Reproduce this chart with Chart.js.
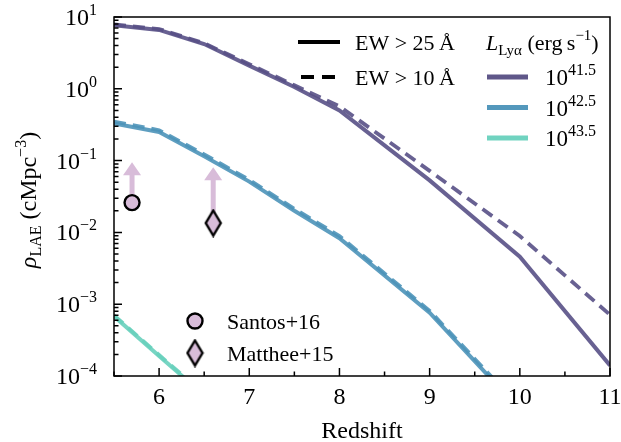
<!DOCTYPE html>
<html>
<head>
<meta charset="utf-8">
<script src="https://cdn.jsdelivr.net/npm/chart.js@4.4.1/dist/chart.umd.min.js"></script>
<style>
  body { margin: 0; background: #fff; }
  #wrap { width: 621px; height: 442px; }
</style>
</head>
<body>
<div id="wrap"><canvas id="grafico" width="621" height="442"></canvas></div>
<script>
// redshift grid
const redshift = [5.5, 6, 6.5, 7, 7.5, 8, 9, 10, 11];

// rho_LAE (cMpc^-3) per luminosity threshold, EW > 25 A (solid) and EW > 10 A (dashed)
const lum415ew25 = [7.7, 6.6, 4.2, 2.1, 1.06, 0.50, 0.053, 0.0046, 0.00014];
const lum415ew10 = [7.9, 6.8, 4.3, 2.2, 1.12, 0.57, 0.072, 0.0089, 0.00071];
const lum425ew25 = [0.33, 0.25, 0.115, 0.051, 0.020, 0.0083, 0.00076, 0.000034, null];
const lum425ew10 = [0.35, 0.265, 0.122, 0.054, 0.0213, 0.0089, 0.00081, 0.000037, null];
const lum435ew25 = [0.00068, 0.00019, 0.000054, 0.000015, null, null, null, null, null];
const lum435ew10 = [0.00070, 0.000196, 0.000056, 0.0000155, null, null, null, null, null];

// observations (lower limits)
const santosZ = [5.7];
const santosVal = [0.026];
const santosLim = [0.095];
const mattheeZ = [6.6];
const mattheeVal = [0.0135];
const mattheeLim = [0.081];

// axis ticks
const xTicks = [6, 7, 8, 9, 10, 11];
const xMinor = [5.5, 6.5, 7.5, 8.5, 9.5, 10.5];
const yExp = [1, 0, -1, -2, -3, -4];
const lumLabels = ["41.5", "42.5", "43.5"];

const colPurple = "rgba(88, 80, 134, 0.9)";
const colBlue = "rgba(76, 148, 185, 0.9)";
const colTeal = "rgba(104, 208, 188, 0.9)";
const legPurple = "#5f5789";
const legBlue = "#5498bc";
const legTeal = "#70d3c0";
const markFill = "#d8bcd9";
const serif = '"Liberation Serif", "Times New Roman", serif';

const ctx = document.getElementById("grafico");

function pts(vals) {
    return redshift.map((z, i) => ({ x: z, y: vals[i] }));
}

// thin diamond marker, like matplotlib 'd'
function diamondImg() {
    const c = document.createElement("canvas");
    c.width = 19; c.height = 29;
    const g = c.getContext("2d");
    g.beginPath();
    g.moveTo(9.5, 2); g.lineTo(17, 14.5); g.lineTo(9.5, 27); g.lineTo(2, 14.5);
    g.closePath();
    g.fillStyle = markFill; g.fill();
    g.lineWidth = 2.4; g.strokeStyle = "#000"; g.lineJoin = "miter"; g.stroke();
    return c;
}
const diamond = diamondImg();

function lineSet(vals, color, dashed) {
    return {
        data: pts(vals),
        borderColor: color,
        borderWidth: dashed ? 3.8 : 4,
        borderDash: dashed ? [12, 7] : [],
        pointRadius: 0,
        tension: 0,
        fill: false,
        spanGaps: false,
        order: 2
    };
}

// draw text pieces with sub/superscripts; returns width
function rich(g, parts, x, y, align) {
    let w = 0;
    parts.forEach(p => {
        g.font = (p.it ? "italic " : "") + p.s + "px " + serif;
        p.w = g.measureText(p.t).width;
        w += p.w;
    });
    let cx = align === "right" ? x - w : align === "center" ? x - w / 2 : x;
    g.textAlign = "left";
    g.textBaseline = "alphabetic";
    parts.forEach(p => {
        g.font = (p.it ? "italic " : "") + p.s + "px " + serif;
        g.fillText(p.t, cx, y + (p.dy || 0));
        cx += p.w;
    });
    return w;
}

function arrowUp(g, x, y0, y1) {
    g.fillStyle = markFill;
    g.fillRect(x - 2.5, y1 + 12, 5, y0 - y1 - 12);
    g.beginPath();
    g.moveTo(x - 9, y1 + 13);
    g.lineTo(x + 9, y1 + 13);
    g.lineTo(x, y1);
    g.closePath();
    g.fill();
}

const limitsPlugin = {
    id: "limits",
    beforeDatasetsDraw(chart) {
        const g = chart.ctx, xs = chart.scales.x, ys = chart.scales.y;
        g.save();
        santosZ.forEach((z, i) => arrowUp(g, xs.getPixelForValue(z), ys.getPixelForValue(santosVal[i]), ys.getPixelForValue(santosLim[i])));
        mattheeZ.forEach((z, i) => arrowUp(g, xs.getPixelForValue(z), ys.getPixelForValue(mattheeVal[i]), ys.getPixelForValue(mattheeLim[i])));
        g.restore();
    }
};

const axesPlugin = {
    id: "axes",
    afterDraw(chart) {
        const g = chart.ctx, a = chart.chartArea, xs = chart.scales.x, ys = chart.scales.y;
        g.save();
        g.strokeStyle = "#000";
        g.fillStyle = "#000";
        g.lineWidth = 1.5;
        g.strokeRect(a.left, a.top, a.right - a.left, a.bottom - a.top);

        // x ticks
        g.beginPath();
        xTicks.forEach(v => { const p = xs.getPixelForValue(v); g.moveTo(p, a.bottom); g.lineTo(p, a.bottom - 8); });
        xMinor.forEach(v => { const p = xs.getPixelForValue(v); g.moveTo(p, a.bottom); g.lineTo(p, a.bottom - 4.5); });
        // y ticks
        yExp.forEach(e => {
            const p = ys.getPixelForValue(Math.pow(10, e));
            g.moveTo(a.left, p); g.lineTo(a.left + 8, p);
            if (e > -4) {
                for (let k = 2; k <= 9; k++) {
                    const q = ys.getPixelForValue(k * Math.pow(10, e - 1));
                    g.moveTo(a.left, q); g.lineTo(a.left + 4.5, q);
                }
            }
        });
        g.stroke();

        // tick labels
        g.font = "24px " + serif;
        g.textAlign = "center";
        g.textBaseline = "alphabetic";
        xTicks.forEach(v => g.fillText(String(v), xs.getPixelForValue(v), 404));
        yExp.forEach(e => {
            const p = ys.getPixelForValue(Math.pow(10, e));
            const ex = e < 0 ? "\u2212" + (-e) : String(e);
            rich(g, [{ t: "10", s: 24 }, { t: ex, s: 16, dy: -10 }], 97, p + 8, "right");
        });

        // axis titles
        g.font = "24px " + serif;
        g.textAlign = "center";
        g.fillText("Redshift", (a.left + a.right) / 2, 438);

        g.save();
        g.translate(36, 200);
        g.rotate(-Math.PI / 2);
        rich(g, [
            { t: "\u03C1", s: 24, it: true },
            { t: "LAE", s: 16, dy: 5 },
            { t: " (cMpc", s: 24 },
            { t: "\u22123", s: 16, dy: -10 },
            { t: ")", s: 24 }
        ], 0, 0, "center");
        g.restore();

        // EW legend
        g.lineWidth = 4;
        g.strokeStyle = "#000";
        g.beginPath(); g.moveTo(298, 42); g.lineTo(340, 42); g.stroke();
        g.setLineDash([13, 8]);
        g.beginPath(); g.moveTo(301, 77); g.lineTo(340, 77); g.stroke();
        g.setLineDash([]);
        rich(g, [{ t: "EW > 25\u2009\u00C5", s: 22 }], 355, 50, "left");
        rich(g, [{ t: "EW > 10\u2009\u00C5", s: 22 }], 355, 85, "left");

        // luminosity legend
        rich(g, [
            { t: "L", s: 22, it: true },
            { t: "Ly\u03B1", s: 15, dy: 5 },
            { t: " (erg\u2009s", s: 22 },
            { t: "\u22121", s: 15, dy: -10 },
            { t: ")", s: 22 }
        ], 486, 50, "left");
        [legPurple, legBlue, legTeal].forEach((c, i) => {
            const y = 77 + i * 30.5;
            g.strokeStyle = c;
            g.lineWidth = 5;
            g.beginPath(); g.moveTo(487, y); g.lineTo(528, y); g.stroke();
            rich(g, [{ t: "10", s: 23 }, { t: lumLabels[i], s: 16, dy: -10 }], 545, y + 8, "left");
        });

        // observation legend
        g.beginPath();
        g.arc(195, 321, 7.5, 0, Math.PI * 2);
        g.fillStyle = markFill; g.fill();
        g.lineWidth = 2.4; g.strokeStyle = "#000"; g.stroke();
        g.drawImage(diamond, 195 - 9.5, 353 - 14.5);
        g.fillStyle = "#000";
        rich(g, [{ t: "Santos+16", s: 22 }], 227, 329, "left");
        rich(g, [{ t: "Matthee+15", s: 22 }], 227, 361, "left");
        g.restore();
    }
};

new Chart(ctx, {
    type: "line",
    data: {
        datasets: [
            {
                type: "scatter",
                data: santosZ.map((z, i) => ({ x: z, y: santosVal[i] })),
                pointStyle: "circle",
                pointRadius: 7.5,
                pointBackgroundColor: markFill,
                pointBorderColor: "#000",
                pointBorderWidth: 2.4,
                order: 0
            },
            {
                type: "scatter",
                data: mattheeZ.map((z, i) => ({ x: z, y: mattheeVal[i] })),
                pointStyle: diamond,
                order: 0
            },
            lineSet(lum415ew25, colPurple, false),
            lineSet(lum415ew10, colPurple, true),
            lineSet(lum425ew25, colBlue, false),
            lineSet(lum425ew10, colBlue, true),
            lineSet(lum435ew25, colTeal, false),
            lineSet(lum435ew10, colTeal, true)
        ]
    },
    options: {
        responsive: false,
        animation: false,
        devicePixelRatio: 1,
        layout: { padding: { left: 114, top: 17, right: 11, bottom: 66 } },
        plugins: { legend: { display: false }, tooltip: { enabled: false } },
        scales: {
            x: { type: "linear", min: 5.5, max: 11, display: false },
            y: { type: "logarithmic", min: 1e-4, max: 10, display: false }
        }
    },
    plugins: [limitsPlugin, axesPlugin]
});
</script>
</body>
</html>
